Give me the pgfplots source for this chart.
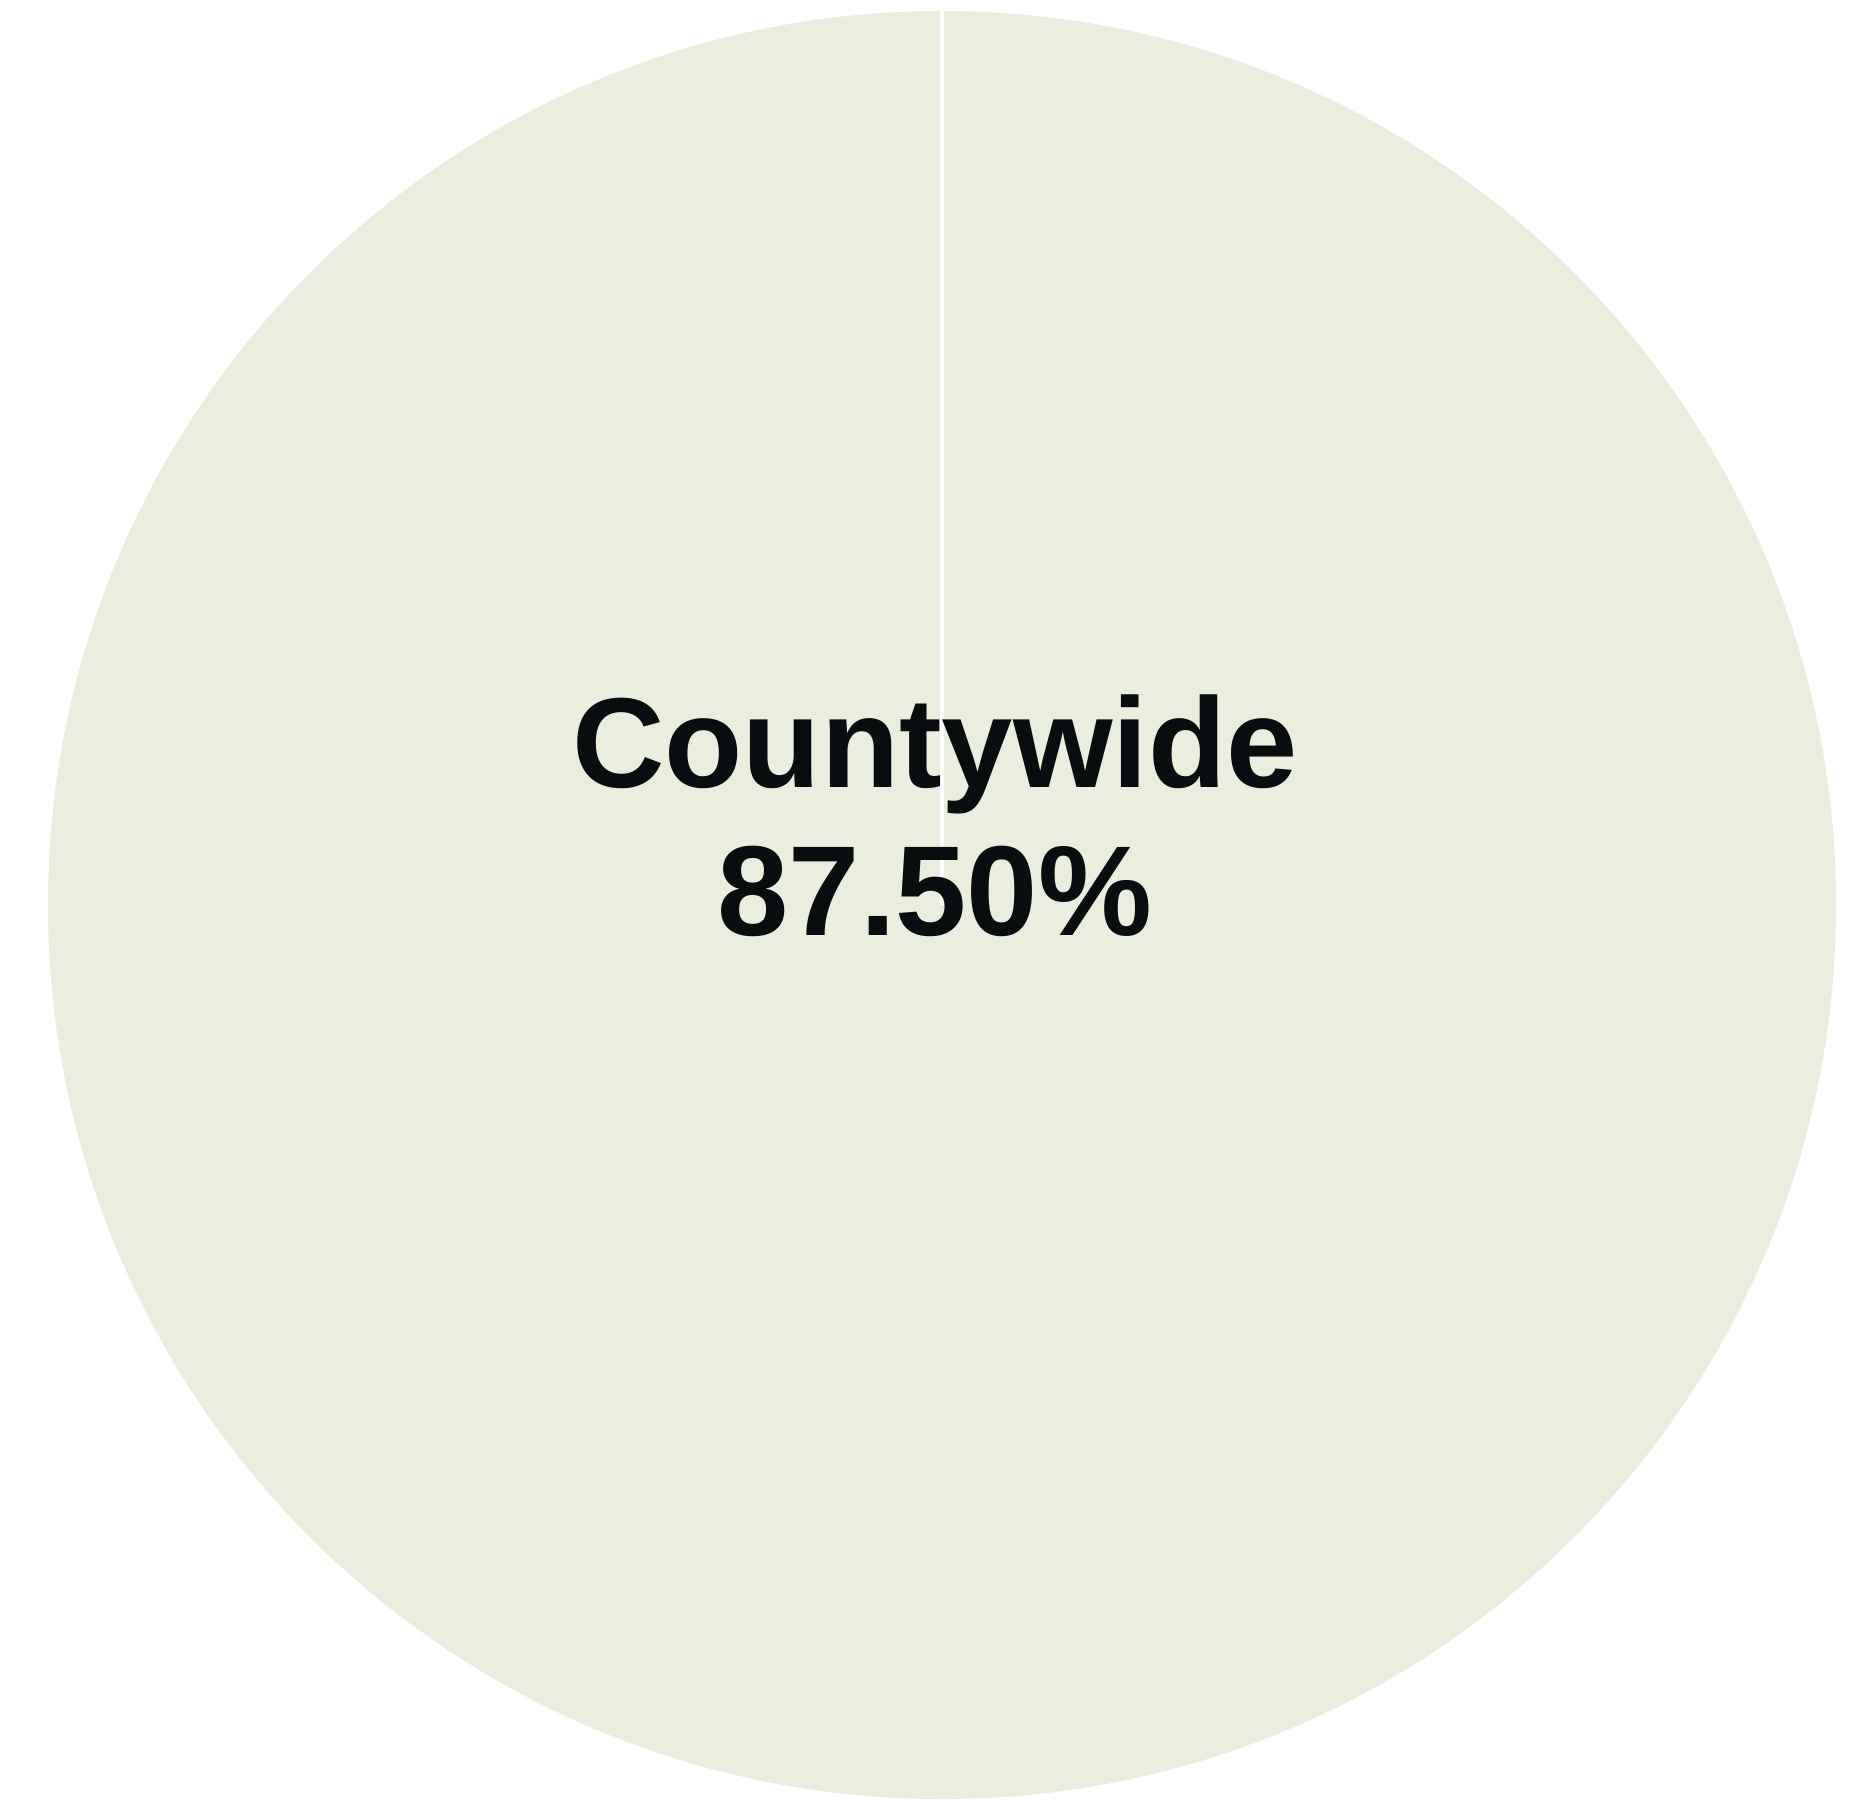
\documentclass[border=0pt]{standalone}
\usepackage{pgfplots}
\pgfplotsset{compat=1.18}
\usepackage{fontspec}
\setmainfont{Liberation Sans}
\definecolor{piefill}{RGB}{234,238,222}
\definecolor{txt}{RGB}{10,13,16}
\begin{document}
\begin{tikzpicture}
\begin{axis}[
  width=462.25pt, height=450.25pt, scale only axis,
  xmin=-1.0537, xmax=1.0145, ymin=-1.0022, ymax=1.0123,
  hide axis, clip=false]
\path (rel axis cs:0,0) rectangle (rel axis cs:1,1);
% single slice: 100% of the pie, starting and ending at 90 degrees
\fill[piefill] (axis cs:0,0) circle[radius=223.5pt];
\addplot[white, line width=1pt] coordinates {(0,0) (0,1)};
\node[anchor=base, text=txt, font=\fontsize{32}{36}\selectfont\bfseries] at (axis cs:-0.008,0.131) {Countywide};
\node[anchor=base, text=txt, font=\fontsize{32}{36}\selectfont\bfseries] at (axis cs:-0.008,-0.0336) {87.50\%};
\end{axis}
\end{tikzpicture}
\end{document}
